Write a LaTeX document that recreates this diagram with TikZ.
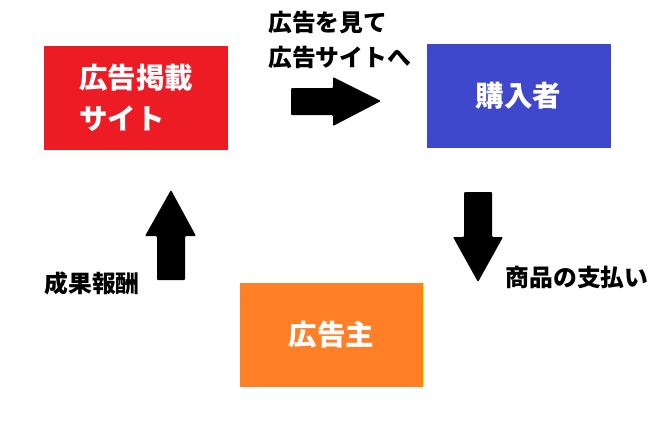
\documentclass[tikz,border=0pt]{standalone}
\usepackage{fontspec}
\newfontfamily\jpfont{Noto Sans CJK JP}
\usetikzlibrary{positioning}
\definecolor{sitered}{HTML}{ED1C24}
\definecolor{buyerblue}{HTML}{3F48CC}
\definecolor{advorange}{HTML}{FF7F27}
\definecolor{edgeyellow}{HTML}{FFF200}

\begin{document}
\begin{tikzpicture}
[
    x=1pt, y=-1pt,
    box/.style={minimum width=184pt, minimum height=104pt, inner sep=0pt, text=white, font=\jpfont\bfseries\fontsize{28.5}{41}\selectfont},
    note/.style={inner sep=0pt, align=left, font=\jpfont\bfseries\fontsize{23.8}{35}\selectfont},
    blockarrow/.style={fill=black, rounded corners=1pt},
]
\useasboundingbox (0,0) rectangle (655,432);
% boxes
\node [box, fill=sitered, align=left] (site) at (136,97.5) {広告掲載\\サイト};
\node [box, fill=buyerblue] (buyer) at (518.5,96) {購入者};
\node [box, fill=advorange, minimum width=183pt] (adv) at (331.5,335) {広告主};
\draw [edgeyellow, line width=1pt] (adv.north east) -- (adv.south east);
% labels
\node [note, anchor=west] (see) at (268,40) {広告を見て\\広告サイトへ};
\node [note] (pay) at (577,277) {商品の支払い};
\node [note] (reward) at (92,283) {成果報酬};
% arrows
\fill [blockarrow] (291,88) -- (333,88) -- (333,77) -- (381,101) -- (333,126) -- (333,115) -- (291,115) -- cycle;
\fill [blockarrow] (464,192) -- (492,192) -- (492,237) -- (503,237) -- (478,282) -- (453,237) -- (464,237) -- cycle;
\fill [blockarrow] (157,280) -- (185,280) -- (185,236) -- (196,236) -- (171,190) -- (145,236) -- (157,236) -- cycle;
\end{tikzpicture}
\end{document}
